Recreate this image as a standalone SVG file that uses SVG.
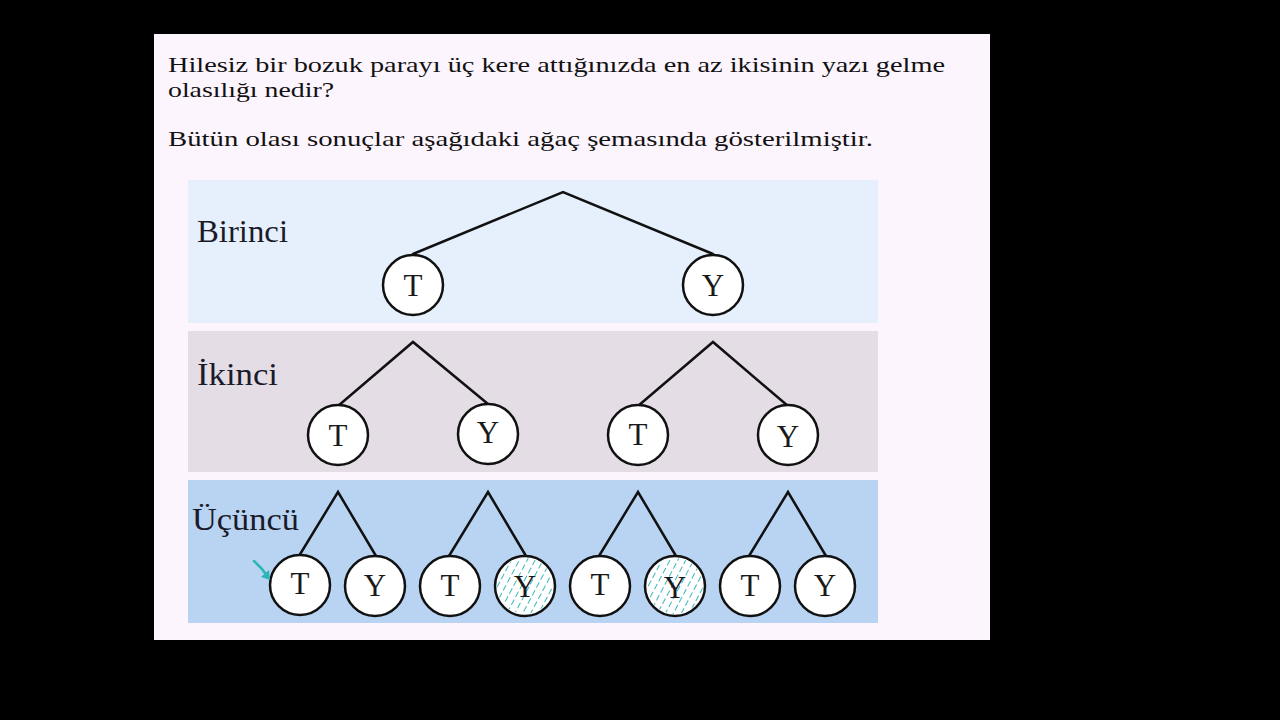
<svg xmlns="http://www.w3.org/2000/svg" width="1280" height="720" viewBox="0 0 1280 720">
<defs>
<style>
.q{font-family:"Liberation Serif","DejaVu Serif",serif;font-size:22px;fill:#111}
.lvl{font-family:"Liberation Serif","DejaVu Serif",serif;font-size:31px;fill:#1a1a2a}
.lt{font-family:"Liberation Serif","DejaVu Serif",serif;font-size:31px;fill:#1a1a1a;text-anchor:middle}
.node{fill:#ffffff;stroke:#111;stroke-width:2.5}
.edge{stroke:#111;stroke-width:2.5;fill:none;stroke-linecap:round}
</style>
<pattern id="hp" width="7" height="9" patternUnits="userSpaceOnUse" patternTransform="rotate(28)">
<line x1="0" y1="0" x2="0" y2="9" stroke="#2db2b4" stroke-width="1.9" stroke-dasharray="6 3"/>
</pattern>
</defs>
<rect width="1280" height="720" fill="#000"/>
<rect x="154" y="34" width="836" height="606" fill="#fdf5fd"/>
<text class="q" x="168" y="72" textLength="777" lengthAdjust="spacingAndGlyphs">Hilesiz bir bozuk parayı üç kere attığınızda en az ikisinin yazı gelme</text>
<text class="q" x="168" y="97" textLength="166" lengthAdjust="spacingAndGlyphs">olasılığı nedir?</text>
<text class="q" x="168" y="146" textLength="705" lengthAdjust="spacingAndGlyphs">Bütün olası sonuçlar aşağıdaki ağaç şemasında gösterilmiştir.</text>
<rect x="188" y="180" width="690" height="143" fill="#e6f0fc"/>
<rect x="188" y="331" width="690" height="141" fill="#e4dde6"/>
<rect x="188" y="480" width="690" height="143" fill="#b8d4f2"/>
<text class="lvl" x="197" y="242" textLength="91" lengthAdjust="spacingAndGlyphs">Birinci</text>
<text class="lvl" x="197" y="385" textLength="81" lengthAdjust="spacingAndGlyphs">İkinci</text>
<text class="lvl" x="192" y="530" textLength="107" lengthAdjust="spacingAndGlyphs">Üçüncü</text>
<g id="connectors">
<polyline class="edge" points="413,254 563,192 713,254"/>
<polyline class="edge" points="338,406 413,342 488,404"/>
<polyline class="edge" points="638,406 713,342 788,406"/>
<polyline class="edge" points="299,556 338,492 376,556"/>
<polyline class="edge" points="449,556 488,492 526,556"/>
<polyline class="edge" points="599,556 638,492 676,556"/>
<polyline class="edge" points="749,556 788,492 826,556"/>
</g>
<g id="n1T"><circle class="node" cx="413" cy="285" r="30"/><text class="lt" x="413" y="296">T</text></g>
<g id="n1Y"><circle class="node" cx="713" cy="285" r="30"/><text class="lt" x="713" y="296">Y</text></g>
<g id="n2T1"><circle class="node" cx="338" cy="435" r="30"/><text class="lt" x="338" y="446">T</text></g>
<g id="n2Y1"><circle class="node" cx="488" cy="434" r="30"/><text class="lt" x="488" y="443">Y</text></g>
<g id="n2T2"><circle class="node" cx="638" cy="435" r="30"/><text class="lt" x="638" y="445">T</text></g>
<g id="n2Y2"><circle class="node" cx="788" cy="435" r="30"/><text class="lt" x="788" y="447">Y</text></g>
<g id="n3a"><circle class="node" cx="300" cy="585" r="30"/><text class="lt" x="300" y="594">T</text></g>
<g id="n3b"><circle class="node" cx="375" cy="586" r="30"/><text class="lt" x="375" y="596">Y</text></g>
<g id="n3c"><circle class="node" cx="450" cy="586" r="30"/><text class="lt" x="450" y="596">T</text></g>
<g id="n3d"><circle class="node" cx="525" cy="586" r="30"/><circle cx="525" cy="586" r="28" fill="url(#hp)"/><text class="lt" x="525" y="597">Y</text></g>
<g id="n3e"><circle class="node" cx="600" cy="586" r="30"/><text class="lt" x="600" y="595">T</text></g>
<g id="n3f"><circle class="node" cx="675" cy="586" r="30"/><circle cx="675" cy="586" r="28" fill="url(#hp)"/><text class="lt" x="675" y="598">Y</text></g>
<g id="n3g"><circle class="node" cx="750" cy="586" r="30"/><text class="lt" x="750" y="596">T</text></g>
<g id="n3h"><circle class="node" cx="825" cy="586" r="30"/><text class="lt" x="825" y="596">Y</text></g>
<g id="mark">
<path d="M254,561 Q262,568 268,577" stroke="#2bb5b8" stroke-width="2.5" fill="none" stroke-linecap="round"/>
<path d="M261,577 L270,580 L269,570 Z" fill="#2bb5b8"/>
</g>
</svg>
